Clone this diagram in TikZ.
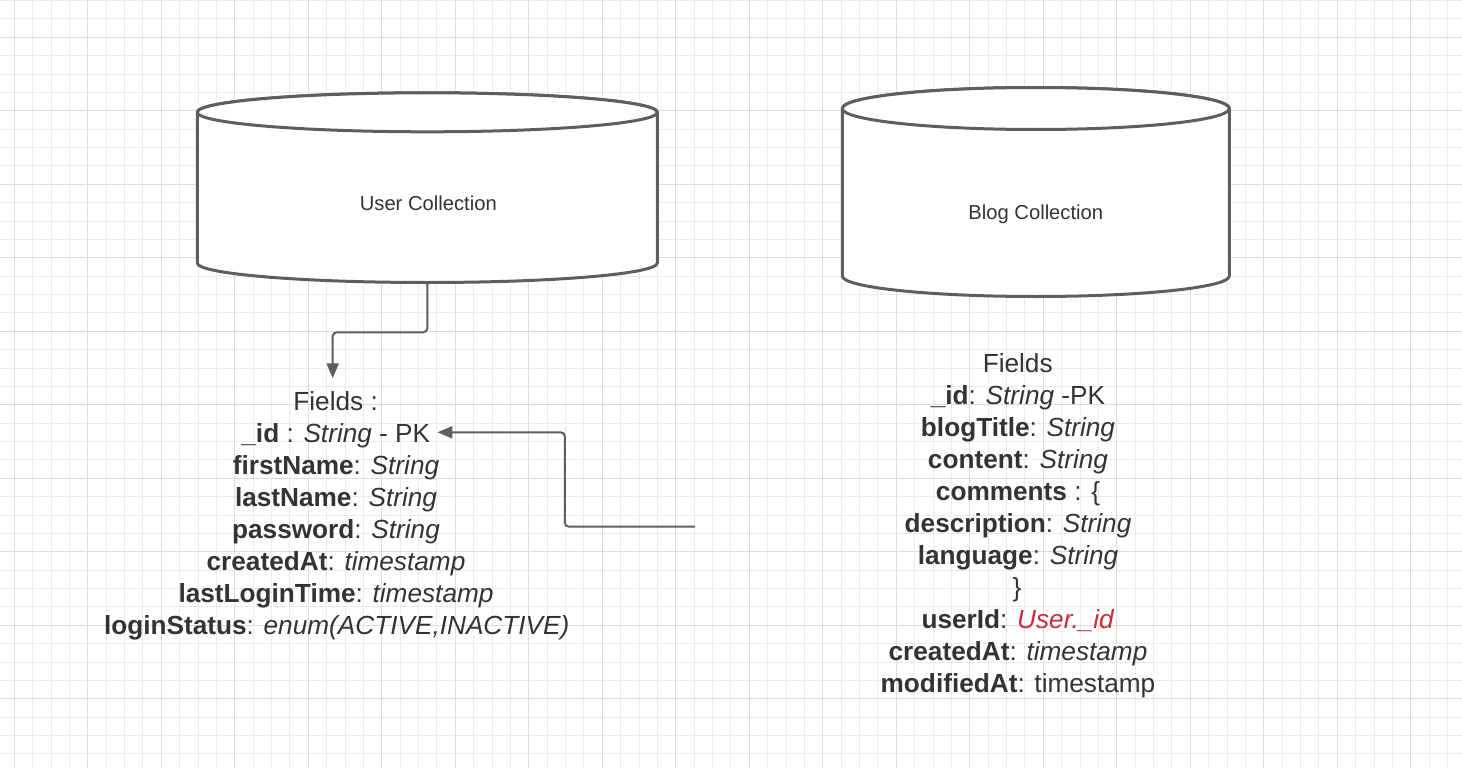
\documentclass[tikz,border=0pt]{standalone}
\usepackage{fontspec}
\setmainfont{Liberation Sans}
\usetikzlibrary{arrows.meta,calc}
\definecolor{gridminor}{HTML}{EBEBEB}
\definecolor{gridmajor}{HTML}{DCDCDC}
\definecolor{lineg}{HTML}{5E5E5E}
\definecolor{txt}{HTML}{333333}
\definecolor{fkred}{HTML}{C92D39}
\tikzset{
  gridminor/.style={draw=gridminor, line width=1pt},
  gridmajor/.style={draw=gridmajor, line width=1.3pt},
  cylline/.style={draw=lineg, line width=3pt, fill=white, line join=round},
  conn/.style={draw=lineg, line width=2pt, rounded corners=4pt, -{Triangle[width=12pt,length=15pt]}},
  fieldtxt/.style={inner sep=0pt, anchor=base, font=\fontsize{26.2}{32}\selectfont, text=txt},
  titletxt/.style={inner sep=0pt, font=\fontsize{20.2}{24}\selectfont, text=txt},
  holder/.style={draw=none, inner sep=0pt}
}
\begin{document}
\begin{tikzpicture}[x=1pt,y=-1pt]
\useasboundingbox (0,0) rectangle (1462,768);
\fill[white] (0,0) rectangle (1462,768);
% grid
\foreach \i in {0,...,80} {
  \pgfmathsetmacro{\gx}{14.3+18.375*(\i-1)}
  \draw[gridminor] (\gx,0) -- (\gx,768);
}
\foreach \i in {0,...,42} {
  \pgfmathsetmacro{\gy}{0.55+18.375*\i}
  \draw[gridminor] (0,\gy) -- (1462,\gy);
}
\foreach \i in {0,...,20} {
  \pgfmathsetmacro{\gx}{14.3+73.5*\i}
  \draw[gridmajor] (\gx,0) -- (\gx,768);
}
\foreach \i in {0,...,10} {
  \pgfmathsetmacro{\gy}{37.3+73.5*\i}
  \draw[gridmajor] (0,\gy) -- (1462,\gy);
}

% User collection cylinder
\node[holder, minimum width=460pt, minimum height=190pt] (ucyl) at (427.3,187.6) {};
\path[cylline] (197.3,112.3) -- (197.3,263) arc[start angle=180, end angle=360, x radius=230pt, y radius=19.5pt] -- (657.3,112.3) arc[start angle=0, end angle=180, x radius=230pt, y radius=19.5pt] -- cycle;
\draw[cylline] (427.3,112.3) ellipse [x radius=230pt, y radius=19.5pt];
\node[titletxt] (ulabel) at (428.3,203.3) {User Collection};

% Blog collection cylinder
\node[holder, minimum width=387pt, minimum height=209pt] (bcyl) at (1035.8,192) {};
\path[cylline] (842.3,108.5) -- (842.3,276) arc[start angle=180, end angle=360, x radius=193.5pt, y radius=20.5pt] -- (1229.3,108.5) arc[start angle=0, end angle=180, x radius=193.5pt, y radius=21pt] -- cycle;
\draw[cylline] (1035.8,108.5) ellipse [x radius=193.5pt, y radius=21pt];
\node[titletxt] (blabel) at (1035.8,214.5) {Blog Collection};

% User fields
\node[fieldtxt] (u1) at (335.6,410.7) {Fields :};
\node[fieldtxt] (u2) at (335.8,442.7) {\textbf{\_id} : \textit{String} - PK};
\node[fieldtxt] (u3) at (336,474.7) {\textbf{firstName}: \textit{String}};
\node[fieldtxt] (u4) at (336,506.7) {\textbf{lastName}: \textit{String}};
\node[fieldtxt] (u5) at (336,538.7) {\textbf{password}: \textit{String}};
\node[fieldtxt] (u6) at (336,570.7) {\textbf{createdAt}: \textit{timestamp}};
\node[fieldtxt] (u7) at (336,602.7) {\textbf{lastLoginTime}: \textit{timestamp}};
\node[fieldtxt] (u8) at (336.7,634.7) {\textbf{loginStatus}: \textit{enum(ACTIVE,INACTIVE)}};

% Blog fields
\node[fieldtxt] (b1) at (1017.7,372.3) {Fields};
\node[fieldtxt] (b2) at (1018,404.3) {\textbf{\_id}: \textit{String} -PK};
\node[fieldtxt] (b3) at (1018,436.3) {\textbf{blogTitle}: \textit{String}};
\node[fieldtxt] (b4) at (1018,468.3) {\textbf{content}: \textit{String}};
\node[fieldtxt] (b5) at (1018,500.3) {\textbf{comments} : \{};
\node[fieldtxt] (b6) at (1018,532.3) {\textbf{description}: \textit{String}};
\node[fieldtxt] (b7) at (1018,564.3) {\textbf{language}: \textit{String}};
\node[fieldtxt] (b8) at (1017,596.3) {\}};
\node[fieldtxt] (b9) at (1018,628.3) {\textbf{userId}: \textcolor{fkred}{\textit{User.\_id}}};
\node[fieldtxt] (b10) at (1018,660.3) {\textbf{createdAt}: \textit{timestamp}};
\node[fieldtxt] (b11) at (1018,692.3) {\textbf{modifiedAt}: timestamp};

% connectors
\coordinate (utip) at ($(u1.base)+(-2.9,-32.4)$);
\draw[conn] (ucyl.south) -- ($(ucyl.south)+(0,49.5)$) -| (utip);
\coordinate (idtip) at ($(u2.base east)+(7,-10.4)$);
\coordinate (bsrc) at (695,526.7);
\draw[conn] (bsrc) -| ($(idtip)+(127.4,0)$) -- (idtip);
\end{tikzpicture}
\end{document}
